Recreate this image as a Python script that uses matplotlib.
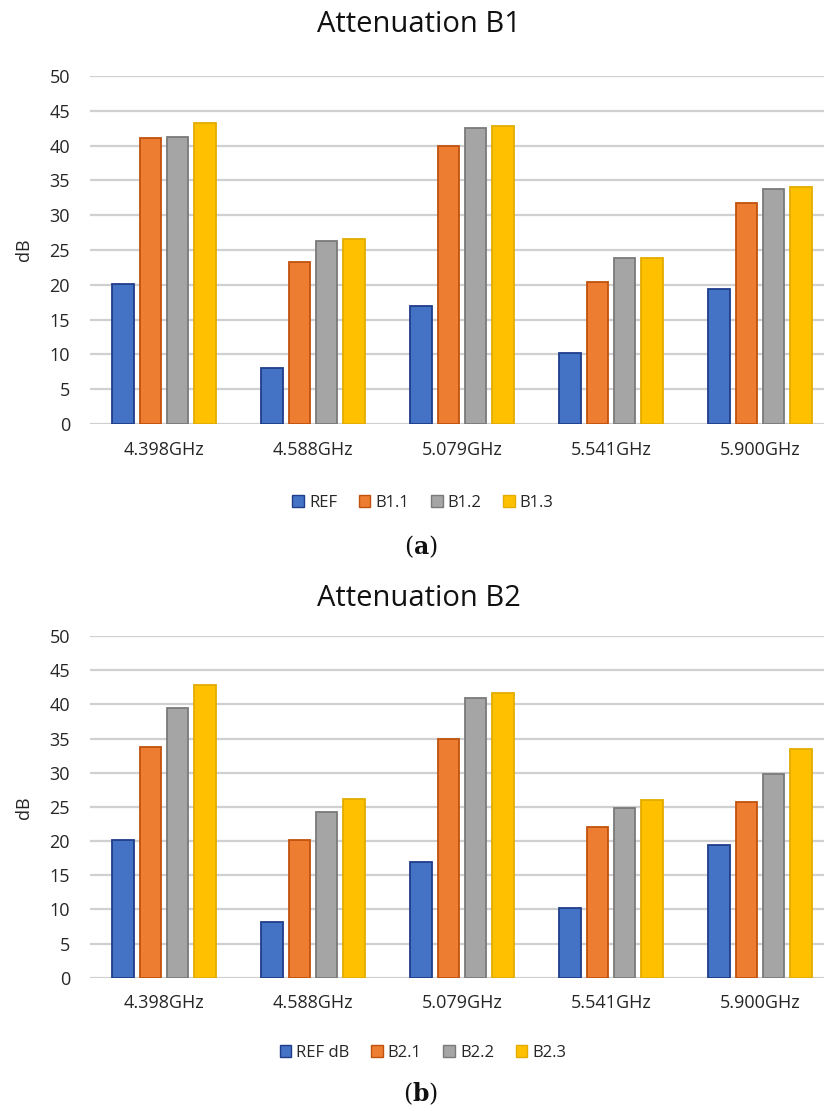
import matplotlib
matplotlib.use("Agg")
import matplotlib.pyplot as plt
import numpy as np
from matplotlib.patches import Patch

plt.rcParams["mathtext.fontset"] = "dejavuserif"

categories = ["4.398GHz", "4.588GHz", "5.079GHz", "5.541GHz", "5.900GHz"]
yticks = [0, 5, 10, 15, 20, 25, 30, 35, 40, 45, 50]

# Panel (a)
b1_names = ["REF", "B1.1", "B1.2", "B1.3"]
b1_ref = [20.1, 8.1, 17.0, 10.2, 19.4]
b1_1 = [41.1, 23.3, 39.9, 20.4, 31.7]
b1_2 = [41.3, 26.3, 42.5, 23.8, 33.8]
b1_3 = [43.3, 26.6, 42.8, 23.8, 34.1]

# Panel (b)
b2_names = ["REF dB", "B2.1", "B2.2", "B2.3"]
b2_ref = [20.1, 8.1, 16.9, 10.2, 19.4]
b2_1 = [33.8, 20.1, 35.0, 22.0, 25.7]
b2_2 = [39.4, 24.3, 40.9, 24.8, 29.8]
b2_3 = [42.8, 26.1, 41.6, 26.0, 33.5]

faces = ["#4472C4", "#ED7D31", "#A5A5A5", "#FFC000"]
edges = ["#1F3D8A", "#C0520F", "#7A7A7A", "#E3AC00"]

FONT = "Open Sans"
TXT = "#262626"
W, H = 824, 1111
fig = plt.figure(figsize=(W / 100, H / 100), dpi=100)


def px(x, y):
    return x / W, 1 - y / H


def draw_panel(ax_rect, title, title_y, series, names, legend_y, cap, cap_y, dB_y):
    ax = fig.add_axes(ax_rect)
    x = np.arange(len(categories))
    step = 0.183
    width = 0.145
    handles = []
    for i, vals in enumerate(series):
        off = (i - 1.5) * step
        ax.bar(x + off, vals, width, color=faces[i], edgecolor=edges[i], linewidth=1.3, zorder=3)
        handles.append(Patch(facecolor=faces[i], edgecolor=edges[i], linewidth=1.0, label=names[i]))
    ax.set_xlim(-0.5, 4.5)
    ax.set_ylim(0, 50)
    ax.set_yticks(yticks)
    ax.set_xticks(x)
    ax.set_xticklabels(categories, fontsize=13, family=FONT, color=TXT)
    ax.set_yticklabels([str(t) for t in yticks], fontsize=13, family=FONT, color=TXT)
    ax.tick_params(axis="both", length=0)
    ax.tick_params(axis="x", pad=12)
    ax.tick_params(axis="y", pad=14)
    for s in ax.spines.values():
        s.set_visible(False)
    ax.yaxis.grid(True, color="#D0D0D0", linewidth=1.6, zorder=0)
    ax.set_axisbelow(True)
    fx, fy = px(419, title_y)
    fig.text(fx, fy, title, ha="center", va="center", fontsize=21, family=FONT, color="#111111")
    fx, fy = px(24, dB_y)
    fig.text(fx, fy, "dB", ha="center", va="center", rotation=90, fontsize=13, family=FONT, color=TXT)
    fx, fy = px(423, legend_y)
    fig.legend(handles=handles, loc="center", bbox_to_anchor=(fx, fy), ncol=4, frameon=False,
               prop={"family": FONT, "size": 12}, handlelength=0.7, handleheight=0.7,
               handletextpad=0.3, columnspacing=1.3, labelcolor=TXT)
    fx, fy = px(421, cap_y)
    fig.text(fx, fy, "(" + r"$\mathbf{" + cap + "}$" + ")", ha="center", va="center", fontsize=17,
             family="DejaVu Serif", color="#111111")
    return ax


l, _ = px(89.5, 0)
w = 745 / W
draw_panel([l, 1 - 424 / H, w, 348 / H], "Attenuation B1", 25,
           [b1_ref, b1_1, b1_2, b1_3], b1_names, 503, "a", 547, 250)
draw_panel([l, 1 - 977.7 / H, w, 341.7 / H], "Attenuation B2", 598,
           [b2_ref, b2_1, b2_2, b2_3], b2_names, 1053, "b", 1094, 808)

fig.savefig("out.png", dpi=100)
